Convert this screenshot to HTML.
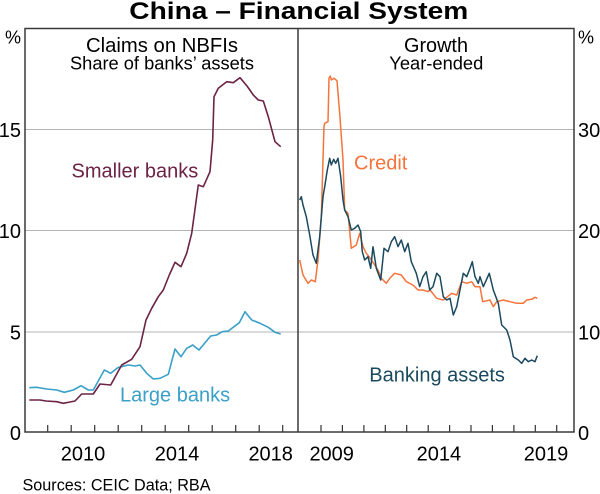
<!DOCTYPE html>
<html>
<head>
<meta charset="utf-8">
<style>
  html, body { margin:0; padding:0; background:#fff; }
  svg { display:block; }
  text { font-family: "Liberation Sans", Arial, sans-serif; fill:#000; }
</style>
</head>
<body>
<svg width="600" height="494" viewBox="0 0 600 494" xmlns="http://www.w3.org/2000/svg">
  <rect x="0" y="0" width="600" height="494" fill="#fff"/>

  <!-- Title -->
  <text x="129.3" y="19" font-size="24" font-weight="bold" textLength="339" lengthAdjust="spacingAndGlyphs">China – Financial System</text>

  <!-- gridlines -->
  <g stroke="#b4b4b4" stroke-width="1">
    <line x1="25" y1="129.5" x2="574" y2="129.5"/>
    <line x1="25" y1="230.5" x2="574" y2="230.5"/>
    <line x1="25" y1="332" x2="574" y2="332"/>
  </g>

  <!-- ticks -->
  <g stroke="#333" stroke-width="1.2">
    <line x1="47.7" y1="425" x2="47.7" y2="432"/>
    <line x1="71.2" y1="425" x2="71.2" y2="432"/>
    <line x1="94.7" y1="425" x2="94.7" y2="432"/>
    <line x1="118.2" y1="425" x2="118.2" y2="432"/>
    <line x1="141.7" y1="425" x2="141.7" y2="432"/>
    <line x1="165.2" y1="425" x2="165.2" y2="432"/>
    <line x1="188.7" y1="425" x2="188.7" y2="432"/>
    <line x1="212.2" y1="425" x2="212.2" y2="432"/>
    <line x1="235.7" y1="425" x2="235.7" y2="432"/>
    <line x1="259.2" y1="425" x2="259.2" y2="432"/>
    <line x1="282.7" y1="425" x2="282.7" y2="432"/>

    <line x1="321" y1="425" x2="321" y2="432"/>
    <line x1="342.4" y1="425" x2="342.4" y2="432"/>
    <line x1="363.9" y1="425" x2="363.9" y2="432"/>
    <line x1="385.3" y1="425" x2="385.3" y2="432"/>
    <line x1="406.7" y1="425" x2="406.7" y2="432"/>
    <line x1="428.2" y1="425" x2="428.2" y2="432"/>
    <line x1="449.6" y1="425" x2="449.6" y2="432"/>
    <line x1="471" y1="425" x2="471" y2="432"/>
    <line x1="492.4" y1="425" x2="492.4" y2="432"/>
    <line x1="513.9" y1="425" x2="513.9" y2="432"/>
    <line x1="535.3" y1="425" x2="535.3" y2="432"/>
    <line x1="556.7" y1="425" x2="556.7" y2="432"/>
  </g>

  <!-- Series: left panel -->
  <polyline fill="none" stroke="#3aa0c8" stroke-width="1.6" stroke-linejoin="round"
    points="29.3,387.7 36.7,387.3 46.7,389 56.7,390 64.3,392.3 73.3,390 81,385.7 88.3,390 93.3,390 104.3,370 110.7,373.3 117.7,367.7 128.3,365 135,366 140,365 146.7,373.3 153.3,379 160,378.3 168.3,374.3 175,349 181,356.7 186.7,348.3 192.7,345 199,350 210.7,336 216.7,335 222.3,331.7 228.3,331 239.3,322.7 245,311.7 251.7,320 260,323.3 268.3,327.3 275,332.3 280.7,334"/>
  <polyline fill="none" stroke="#6b2346" stroke-width="1.6" stroke-linejoin="round"
    points="29.3,400 40,400 46,401 56.7,401.7 63.3,403.3 70,402 75,401 81.7,394 93.3,394 100,384 110.7,385 121.7,365 131.7,359.3 140,346.7 146,320 151.7,308.3 158.3,296.7 163.3,290 169.3,275 175,262.3 181,266.7 186.7,253.3 191.7,233.3 198.3,185 203.3,186.7 210,171.7 212.7,140 214,96.7 218.3,88.3 226.7,81.7 233.3,82.7 240,77.7 247,86 253.3,95 258.3,100 263.3,101 268.3,116.7 275,141.7 280.7,146.7"/>

  <!-- Series: right panel -->
  <polyline fill="none" stroke="#f4743b" stroke-width="1.5" stroke-linejoin="round"
    points="299.7,260 303,275 308,283.3 311.3,280 315.3,281.7 318,260 321.3,216.7 324,126.7 324.7,123.3 328,121.7 329,78.3 330.3,76 331.3,80 334,78.3 337,80.7 339.7,113.3 343,160 344.7,210 348,213.3 351.3,248.3 356.3,245 359.7,233.3 363,246.7 366.3,253.3 370,258 374.7,265 378,270 381.3,278.3 386.3,283.3 390,278 394.7,273.3 401.3,275 406.3,281.7 413,285 418,290 423,290 428,291.7 430,290 436.7,298.3 443.3,300 451.7,293.3 456.7,295 461.7,281.7 466.7,283.3 471.7,281.7 475,286.7 480,286.7 482.7,301.7 490,300 493.3,306.7 496.7,301.7 503.3,300 510,301.7 516.7,303.3 523.3,303.3 526.7,300 531.7,299.3 535,297.3 537.3,298.3"/>
  <polyline fill="none" stroke="#1b4a5e" stroke-width="1.5" stroke-linejoin="round"
    points="299.7,200 301.3,196.7 303,205 306.3,216.7 309.7,235 313,255 316.3,263.3 319.7,236.7 323,196.7 324.7,186.7 327.3,170 329.7,158.3 331.3,165 333.7,159.3 335.7,163.3 338,158.3 340.7,176.7 343,200 344.7,210 348,216.7 351.3,230 354.7,228.3 358,225 360.7,231.7 362.3,251.7 364.7,260 368,256.7 370.7,268.3 373,246.7 376.3,268.3 380.7,280 384,248.3 388,251.7 391.3,241.7 394.7,236.7 398,246.7 401.3,240 404.7,251.7 408,243.3 411.3,261.7 416.3,273.3 419.7,286.7 423,276.7 426.3,271.7 429.7,290 433,286.7 436.7,273.3 440,276.7 443.3,296.7 446.7,300 450,298.3 453.3,315 456.7,306.7 460,290 463.3,273.3 466.7,276.7 470,268.3 472.3,261.7 475,276.7 478.3,283.3 480,276.7 483.3,286.7 489.3,273.3 493.3,290 498.3,303.3 501.7,325 506.7,330 510,340 513.3,356.7 518.3,360 521.7,363.3 525,358.3 528.3,361.7 531.7,360 535,361.7 537.3,355.7"/>

  <!-- frame -->
  <rect x="25" y="28.5" width="549" height="403.5" fill="none" stroke="#3a3a3a" stroke-width="1.5"/>
  <line x1="298" y1="28.5" x2="298" y2="432" stroke="#3a3a3a" stroke-width="1.5"/>

  <!-- panel titles -->
  <text x="86" y="52" font-size="20" textLength="152" lengthAdjust="spacingAndGlyphs">Claims on NBFIs</text>
  <text x="70" y="69.5" font-size="18" textLength="184" lengthAdjust="spacingAndGlyphs">Share of banks’ assets</text>
  <text x="404" y="52" font-size="20" textLength="64" lengthAdjust="spacingAndGlyphs">Growth</text>
  <text x="389.3" y="69.5" font-size="18" textLength="94" lengthAdjust="spacingAndGlyphs">Year-ended</text>

  <!-- series labels -->
  <text x="71.5" y="177.5" font-size="20" style="fill:#6b2346">Smaller banks</text>
  <text x="120" y="401.7" font-size="20" style="fill:#3aa0c8">Large banks</text>
  <text x="354" y="169.3" font-size="20" style="fill:#f4743b">Credit</text>
  <text x="369.3" y="381.7" font-size="20" style="fill:#1b4a5e">Banking assets</text>

  <!-- left axis labels -->
  <text x="21" y="43.5" font-size="18" text-anchor="end">%</text>
  <text x="21" y="137" font-size="20" text-anchor="end">15</text>
  <text x="21" y="238" font-size="20" text-anchor="end">10</text>
  <text x="21" y="339.5" font-size="20" text-anchor="end">5</text>
  <text x="21" y="440" font-size="20" text-anchor="end">0</text>

  <!-- right axis labels -->
  <text x="578" y="43.5" font-size="18">%</text>
  <text x="578" y="137" font-size="20">30</text>
  <text x="578" y="238" font-size="20">20</text>
  <text x="578" y="339.5" font-size="20">10</text>
  <text x="578" y="440" font-size="20">0</text>

  <!-- x axis labels -->
  <text x="83" y="460.5" font-size="20" text-anchor="middle">2010</text>
  <text x="177" y="460.5" font-size="20" text-anchor="middle">2014</text>
  <text x="270.7" y="460.5" font-size="20" text-anchor="middle">2018</text>
  <text x="331.7" y="460.5" font-size="20" text-anchor="middle">2009</text>
  <text x="438.9" y="460.5" font-size="20" text-anchor="middle">2014</text>
  <text x="546" y="460.5" font-size="20" text-anchor="middle">2019</text>

  <!-- sources -->
  <text x="22.5" y="490.5" font-size="16.5" textLength="188" lengthAdjust="spacingAndGlyphs">Sources: CEIC Data; RBA</text>
</svg>
</body>
</html>
